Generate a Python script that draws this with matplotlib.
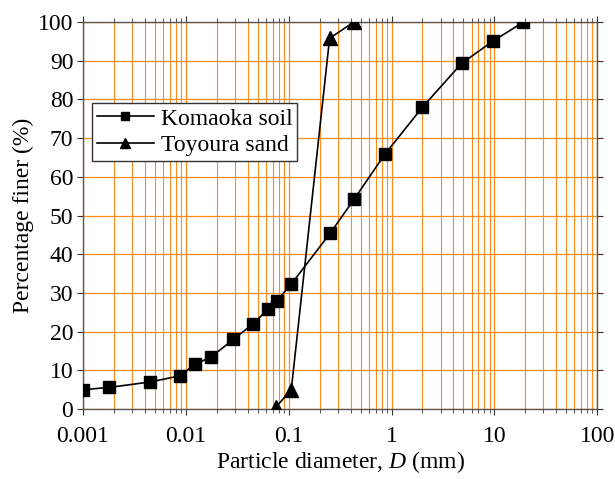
import matplotlib
matplotlib.use('Agg')
import matplotlib.pyplot as plt
from matplotlib.ticker import LogLocator, FixedLocator, NullFormatter

plt.rcParams['font.family'] = ['Liberation Serif', 'DejaVu Serif']
plt.rcParams['mathtext.fontset'] = 'custom'
plt.rcParams['mathtext.it'] = 'Liberation Serif:italic'

# grain size distribution
komaoka_d = [0.001, 0.0018, 0.0045, 0.0088, 0.0122, 0.0175, 0.029, 0.045,
             0.063, 0.077, 0.106, 0.253, 0.432, 0.86, 2.0, 4.8, 9.6, 19.2]
komaoka_p = [5.0, 5.6, 7.0, 8.6, 11.6, 13.4, 18.0, 22.0,
             25.8, 28.0, 32.3, 45.4, 54.2, 65.8, 78.0, 89.3, 95.0, 100.0]
toyoura_d = [0.075, 0.106, 0.25, 0.43]
toyoura_p = [0.5, 5.0, 95.8, 100.0]

xticks = [0.001, 0.01, 0.1, 1, 10, 100]
xtick_labels = ['0.001', '0.01', '0.1', '1', '10', '100']
yticks = list(range(0, 101, 10))

fig = plt.figure(figsize=(6.15, 4.79), dpi=100)
ax = fig.add_axes([0.135, 0.146, 0.836, 0.808])

grid_col = '#FF8C1A'
ax.set_xscale('log')
ax.set_xlim(0.001, 100)
ax.set_ylim(0, 100)
ax.xaxis.set_major_locator(FixedLocator(xticks))
ax.set_xticklabels(xtick_labels)
ax.xaxis.set_minor_locator(LogLocator(base=10, subs=range(2, 10), numticks=20))
ax.xaxis.set_minor_formatter(NullFormatter())
ax.set_yticks(yticks)

ax.grid(True, which='major', axis='both', color=grid_col, lw=0.9)
ax.grid(True, which='minor', axis='x', color=grid_col, lw=0.8)
ax.set_axisbelow(True)

ax.plot(komaoka_d, komaoka_p, color='black', lw=1.2, marker='s', ms=8.5,
        label='Komaoka soil', zorder=3)
ax.plot(toyoura_d, toyoura_p, color='black', lw=1.2, marker='^', ms=9.5,
        label='Toyoura sand', zorder=3)

for s in ax.spines.values():
    s.set_color('#555555')
    s.set_linewidth(1.0)

ax.tick_params(axis='both', which='major', labelsize=17, direction='out',
               length=4, color='#333333', pad=3)
ax.tick_params(axis='x', which='major', pad=8)
ax.tick_params(axis='x', which='minor', direction='out', length=3, color='#333333')
ax.tick_params(top=True, right=True, which='both')
ax.tick_params(axis='x', which='both', top=True)

ax.set_xlabel('Particle diameter, $\\it{D}$ (mm)', fontsize=17, labelpad=2)
ax.set_ylabel('Percentage finer (%)', fontsize=17, labelpad=3)

leg = ax.legend(loc='upper left', bbox_to_anchor=(0.018, 0.79), fontsize=17,
                frameon=True, fancybox=False, edgecolor='#333333',
                framealpha=1, markerscale=0.75, handlelength=2.4,
                borderpad=0.2, labelspacing=0.2, handletextpad=0.3,
                borderaxespad=0)
leg.get_frame().set_linewidth(1.0)

fig.savefig('out.png', dpi=100)
